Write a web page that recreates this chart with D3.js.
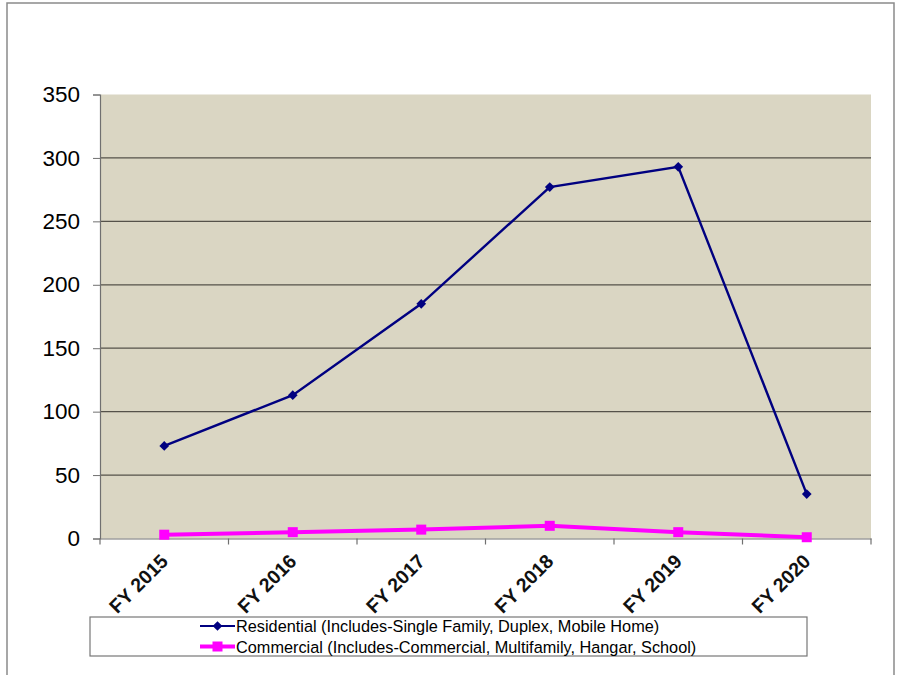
<!DOCTYPE html>
<html><head><meta charset="utf-8">
<script src="https://cdn.jsdelivr.net/npm/d3@7"></script>
<style>body{margin:0;background:#fff;}svg{display:block;font-family:"Liberation Sans",Arial,sans-serif;}</style>
</head><body>
<svg id="c" width="906" height="675"></svg>
<script>
const categories = ["FY 2015","FY 2016","FY 2017","FY 2018","FY 2019","FY 2020"];
const residential = [73, 113, 185, 277, 293, 35];
const commercial = [3, 5, 7, 10, 5, 1];
const yTicks = [0, 50, 100, 150, 200, 250, 300, 350];
const seriesNames = ["Residential (Includes-Single Family, Duplex, Mobile Home)",
                     "Commercial (Includes-Commercial, Multifamily, Hangar, School)"];

const svg = d3.select("#c");
const L = 100, R = 871, T = 94.5, B = 538.5;

svg.append("rect").attr("x",7).attr("y",3).attr("width",887).attr("height",680)
  .attr("fill","none").attr("stroke","#8a8a8a").attr("stroke-width",1.5);

const x = d3.scaleBand().domain(categories).range([L, R]);
const y = d3.scaleLinear().domain([0, 350]).range([B, T]);

svg.append("rect").attr("x",L).attr("y",T).attr("width",R-L).attr("height",B-T).attr("fill","#dad6c3");

// gridlines
svg.append("g").selectAll("line").data(yTicks.filter(v => v > 0 && v < 350)).join("line")
  .attr("x1",L).attr("x2",R).attr("y1",d=>y(d)).attr("y2",d=>y(d))
  .attr("stroke","#55524a").attr("stroke-width",1.2);

// y axis
const yAxis = svg.append("g").attr("transform",`translate(${L},0)`)
  .call(d3.axisLeft(y).tickValues(yTicks).tickSize(7).tickPadding(13));
yAxis.select(".domain").attr("stroke","#707070").attr("stroke-width",1.2);
yAxis.selectAll(".tick line").attr("stroke","#707070");
yAxis.selectAll("text").attr("font-size",22.5).attr("fill","#000").attr("font-family","Liberation Sans, Arial, sans-serif");

// x axis
const xAxis = svg.append("g").attr("transform",`translate(0,${B})`)
  .call(d3.axisBottom(x).tickSize(0).tickFormat(""));
xAxis.select(".domain").attr("stroke","#707070").attr("stroke-width",1.2);
const bounds = categories.map(c => x(c)).concat([R]);
svg.append("g").selectAll("line").data(bounds).join("line")
  .attr("x1",d=>d).attr("x2",d=>d).attr("y1",B).attr("y2",B+6)
  .attr("stroke","#707070").attr("stroke-width",1.2);
svg.append("g").selectAll("text").data(categories).join("text")
  .attr("transform",d=>`translate(${x(d)+x.bandwidth()/2+5},${B+24}) rotate(-45)`)
  .attr("text-anchor","end")
  .attr("font-size",19.5).attr("font-weight","bold").attr("fill","#111")
  .text(d=>d);

const cx = d => x(d) + x.bandwidth()/2;
const line = d3.line().x((d,i)=>cx(categories[i])).y(d=>y(d));

svg.append("path").datum(commercial).attr("d",line).attr("fill","none")
  .attr("stroke","#ff00ff").attr("stroke-width",4);
svg.append("g").selectAll("rect").data(commercial).join("rect")
  .attr("x",(d,i)=>cx(categories[i])-5).attr("y",d=>y(d)-5)
  .attr("width",10).attr("height",10).attr("fill","#ff00ff");

svg.append("path").datum(residential).attr("d",line).attr("fill","none")
  .attr("stroke","#000080").attr("stroke-width",2.4);
const diamond = d3.symbol().type(d3.symbolDiamond2).size(60);
svg.append("g").selectAll("path").data(residential).join("path")
  .attr("transform",(d,i)=>`translate(${cx(categories[i])},${y(d)})`)
  .attr("d",diamond).attr("fill","#000080");

// legend
svg.append("rect").attr("x",90).attr("y",617).attr("width",717).attr("height",39)
  .attr("fill","#fff").attr("stroke","#777").attr("stroke-width",1.2);
const lg = svg.append("g");
lg.append("line").attr("x1",200).attr("x2",235).attr("y1",626).attr("y2",626).attr("stroke","#000080").attr("stroke-width",2);
lg.append("path").attr("transform","translate(217.5,626)").attr("d",diamond).attr("fill","#000080");
lg.append("text").attr("x",236).attr("y",626).attr("dominant-baseline","central").attr("font-size",16.3).attr("fill","#000").text(seriesNames[0]);
lg.append("line").attr("x1",200).attr("x2",235).attr("y1",646.5).attr("y2",646.5).attr("stroke","#ff00ff").attr("stroke-width",4);
lg.append("rect").attr("x",212.5).attr("y",641.5).attr("width",10).attr("height",10).attr("fill","#ff00ff");
lg.append("text").attr("x",236).attr("y",646.5).attr("dominant-baseline","central").attr("font-size",16.3).attr("fill","#000").text(seriesNames[1]);
</script>
</body></html>
